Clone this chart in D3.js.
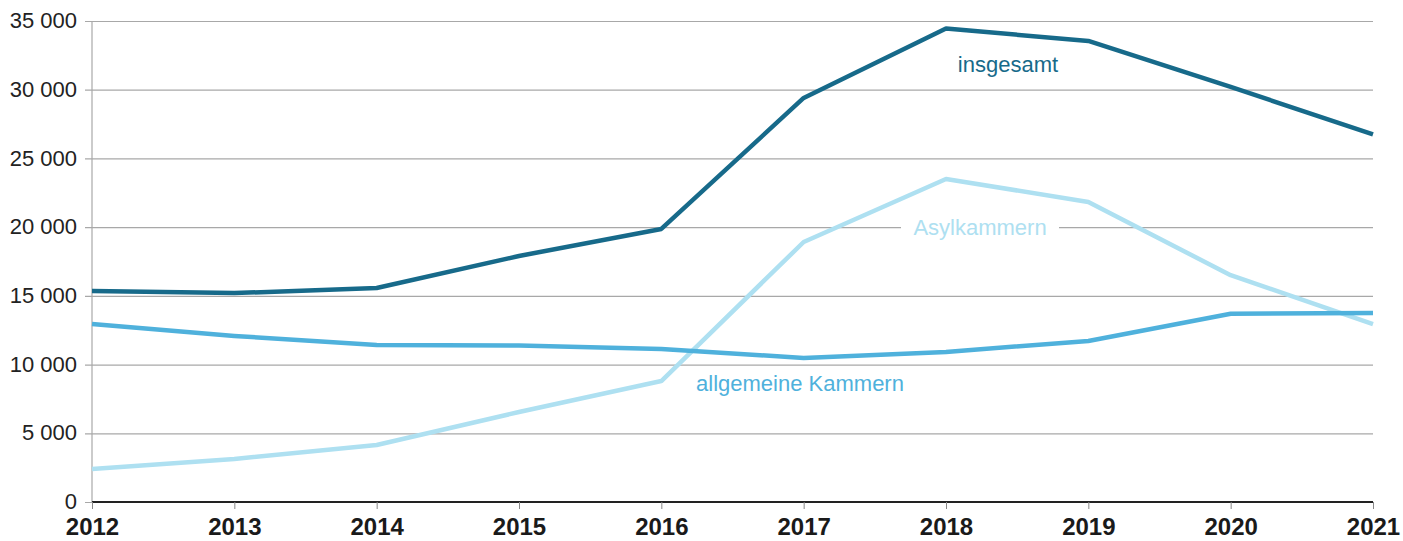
<!DOCTYPE html>
<html>
<head>
<meta charset="utf-8">
<script src="https://cdn.jsdelivr.net/npm/d3@7"></script>
<style>
  body { margin: 0; background: #fff; }
  svg text { font-family: "Liberation Sans", Arial, sans-serif; }
</style>
</head>
<body>
<div id="chart"></div>
<script>
var years = [2012, 2013, 2014, 2015, 2016, 2017, 2018, 2019, 2020, 2021];
var insgesamt = [15350, 15200, 15570, 17900, 19870, 29400, 34450, 33550, 30200, 26750];
var allgemeine = [12950, 12080, 11430, 11380, 11130, 10480, 10920, 11720, 13700, 13760];
var asyl = [2400, 3130, 4150, 6550, 8800, 18920, 23500, 21830, 16500, 12950];
var yTicks = [0, 5000, 10000, 15000, 20000, 25000, 30000, 35000];

var width = 1403, height = 541;
var margin = {left: 92, right: 30, top: 21, bottom: 39};

var svg = d3.select('#chart').append('svg')
  .attr('width', width)
  .attr('height', height);

var x = d3.scaleLinear()
  .domain([2012, 2021])
  .range([margin.left, width - margin.right]);

var y = d3.scaleLinear()
  .domain([0, 35000])
  .range([height - margin.bottom, margin.top]);

var fmt = function(d) { return d3.format(',')(d).replace(/,/g, ' '); };

// gridlines + y labels
var yAxis = svg.append('g')
  .attr('transform', 'translate(' + margin.left + ',0)')
  .call(d3.axisLeft(y).tickValues(yTicks).tickFormat(fmt)
    .tickSize(-(width - margin.right - margin.left)).tickPadding(15));
yAxis.select('.domain').remove();
yAxis.selectAll('.tick line')
  .attr('x1', -7)
  .attr('stroke', '#a8a8a8')
  .attr('stroke-width', 1.2);
yAxis.selectAll('.tick text')
  .attr('font-size', 22)
  .attr('dy', '0.3em')
  .attr('fill', '#222');

// vertical y axis line
svg.append('line')
  .attr('x1', margin.left).attr('x2', margin.left)
  .attr('y1', y(35000)).attr('y2', y(0))
  .attr('stroke', '#a8a8a8').attr('stroke-width', 1.2);

// x axis
var xAxis = svg.append('g')
  .attr('transform', 'translate(0,' + y(0) + ')')
  .call(d3.axisBottom(x).tickValues(years).tickFormat(d3.format('d'))
    .tickSize(7).tickPadding(9));
xAxis.select('.domain')
  .attr('stroke', '#222').attr('stroke-width', 2)
  .attr('d', 'M' + margin.left + ',0H' + (width - margin.right));
xAxis.selectAll('.tick line').attr('stroke', '#888');
xAxis.selectAll('.tick text')
  .attr('font-size', 24)
  .attr('font-weight', 'bold')
  .attr('fill', '#1a1a1a');

var line = d3.line()
  .x(function(d, i) { return x(years[i]); })
  .y(function(d) { return y(d); });

var series = [
  {values: asyl, color: '#aee0f1'},
  {values: allgemeine, color: '#4fb1dc'},
  {values: insgesamt, color: '#176a8a'}
];

svg.selectAll('path.series')
  .data(series)
  .enter()
  .append('path')
  .attr('class', 'series')
  .attr('fill', 'none')
  .attr('stroke', function(d) { return d.color; })
  .attr('stroke-width', 4.5)
  .attr('stroke-linejoin', 'round')
  .attr('d', function(d) { return line(d.values); });

// labels
svg.append('text')
  .attr('x', 1008).attr('y', 72)
  .attr('text-anchor', 'middle')
  .attr('font-size', 22)
  .attr('fill', '#176a8a')
  .text('insgesamt');

svg.append('rect')
  .attr('x', 901).attr('y', 212)
  .attr('width', 158).attr('height', 30)
  .attr('fill', '#fff');
svg.append('text')
  .attr('x', 980).attr('y', 235)
  .attr('text-anchor', 'middle')
  .attr('font-size', 22)
  .attr('fill', '#aee0f1')
  .text('Asylkammern');

svg.append('text')
  .attr('x', 800).attr('y', 391)
  .attr('text-anchor', 'middle')
  .attr('font-size', 22)
  .attr('fill', '#4fb1dc')
  .text('allgemeine Kammern');
</script>
</body>
</html>
